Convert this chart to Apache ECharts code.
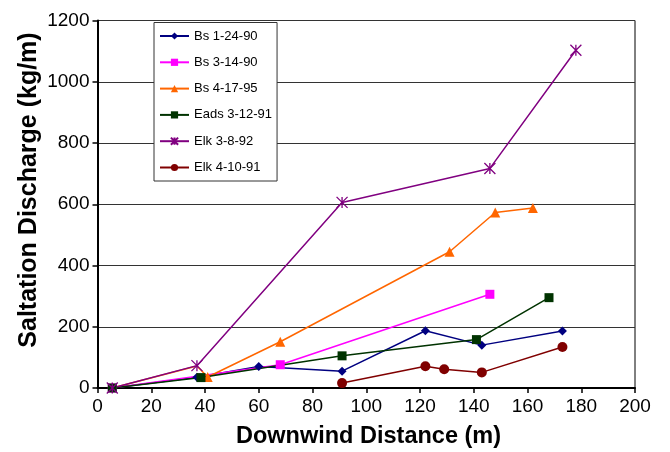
<!DOCTYPE html>
<html>
<head>
<meta charset="utf-8">
<script src="https://cdn.jsdelivr.net/npm/echarts@6/dist/echarts.min.js"></script>
<style>html,body{margin:0;padding:0;background:#fff}#c{width:670px;height:452px}</style>
</head>
<body>
<div id="c"></div>
<script>
// Data
var seriesNames = ['Bs 1-24-90', 'Bs 3-14-90', 'Bs 4-17-95', 'Eads 3-12-91', 'Elk 3-8-92', 'Elk 4-10-91'];
var bs12490X = [5.5, 37, 60, 91, 122, 143, 173];
var bs12490Y = [0, 35, 70, 55, 187, 140, 186];
var bs31490X = [5.5, 38.5, 68, 146];
var bs31490Y = [0, 40, 76, 306];
var bs41795X = [5.5, 37, 41, 68, 131, 148, 162];
var bs41795Y = [0, 72, 36, 151, 445, 573, 588];
var eads31291X = [5.5, 38.5, 91, 141, 168];
var eads31291Y = [0, 34, 105, 158, 295];
var elk3892X = [5.5, 37, 91, 146, 178];
var elk3892Y = [0, 73, 606, 717, 1103];
var elk41091X = [91, 122, 129, 143, 173];
var elk41091Y = [16, 71, 61, 51, 134];
var xTicks = [0, 20, 40, 60, 80, 100, 120, 140, 160, 180, 200];
var yTicks = [0, 200, 400, 600, 800, 1000, 1200];

var xs = [bs12490X, bs31490X, bs41795X, eads31291X, elk3892X, elk41091X];
var ys = [bs12490Y, bs31490Y, bs41795Y, eads31291Y, elk3892Y, elk41091Y];
// points whose marker is hidden beneath another series' marker
var hiddenMarkers = [[], [1], [0, 1], [], [], []];

var colors = ['#000080', '#FF00FF', '#FF6600', '#003300', '#800080', '#800000'];
var symbols = ['diamond', 'rect', 'triangle', 'rect',
  'path://M0,0L10,10M0,10L10,0M5,0L5,10', 'circle'];
var sizes = [9, 9, 10, 9, 11, 10];

var FONT = '"Liberation Sans", Arial, Helvetica, sans-serif';

var series = seriesNames.map(function (name, i) {
  var data = xs[i].map(function (x, j) {
    var item = { value: [x, ys[i][j]] };
    if (hiddenMarkers[i].indexOf(j) >= 0) item.symbol = 'none';
    return item;
  });
  var isStar = i === 4;
  return {
    name: name,
    type: 'line',
    data: data,
    symbol: symbols[i],
    symbolSize: sizes[i],
    showAllSymbol: true,
    lineStyle: { color: colors[i], width: 1.5 },
    itemStyle: isStar
      ? { color: 'rgba(0,0,0,0)', borderColor: colors[i], borderWidth: 1.3 }
      : { color: colors[i], borderColor: colors[i], borderWidth: 0 },
    animation: false,
    emphasis: { disabled: true }
  };
});

var chart = echarts.init(document.getElementById('c'), null, { renderer: 'canvas' });
chart.setOption({
  backgroundColor: '#fff',
  animation: false,
  grid: {
    left: 97.5, right: 35, top: 20.5, bottom: 64,
    show: true, borderColor: '#000', borderWidth: 1, backgroundColor: 'transparent'
  },
  legend: {
    data: seriesNames,
    orient: 'vertical',
    left: 154, top: 22.5,
    padding: [6, 5, 6, 5],
    itemWidth: 29, itemHeight: 9, itemGap: 11.3,
    backgroundColor: '#fff',
    borderColor: '#333', borderWidth: 1,
    textStyle: { fontFamily: FONT, fontSize: 13, color: '#000', lineHeight: 15 },
    selectedMode: false
  },
  xAxis: {
    type: 'value', min: xTicks[0], max: xTicks[xTicks.length - 1], interval: 20,
    axisLine: { show: true, onZero: false, lineStyle: { color: '#000', width: 2 } },
    axisTick: { show: true, length: 5, lineStyle: { color: '#000', width: 1.5 } },
    axisLabel: { fontFamily: FONT, fontSize: 19, color: '#000', margin: 9 },
    splitLine: { show: false }
  },
  yAxis: {
    type: 'value', min: yTicks[0], max: yTicks[yTicks.length - 1], interval: 200,
    axisLine: { show: true, lineStyle: { color: '#000', width: 2 } },
    axisTick: { show: true, length: 5, lineStyle: { color: '#000', width: 1.5 } },
    axisLabel: { fontFamily: FONT, fontSize: 19, color: '#000', margin: 8,
      formatter: function (v) { return String(v); } },
    splitLine: { show: true, lineStyle: { color: '#333', width: 1.2 } }
  },
  graphic: [
    {
      type: 'text', x: 368.5, y: 437,
      style: { text: 'Downwind Distance (m)', fontFamily: FONT, fontSize: 23.5, fontWeight: 'bold',
        fill: '#000', align: 'center', verticalAlign: 'middle' }
    },
    {
      type: 'text', x: 29, y: 190, rotation: Math.PI / 2,
      style: { text: 'Saltation Discharge (kg/m)', fontFamily: FONT, fontSize: 25, fontWeight: 'bold',
        fill: '#000', align: 'center', verticalAlign: 'middle' }
    }
  ],
  series: series
});
</script>
</body>
</html>
